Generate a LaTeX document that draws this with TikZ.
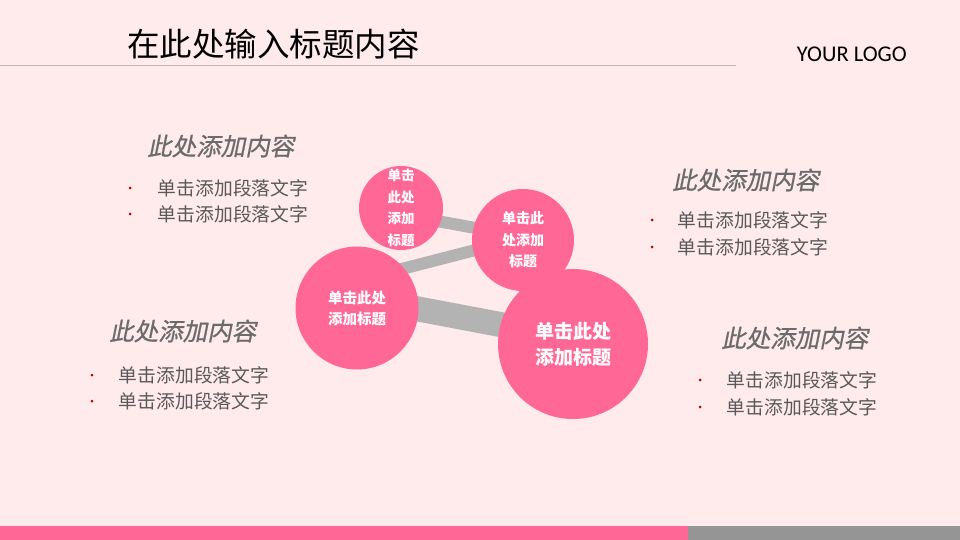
\documentclass[tikz,border=0pt]{standalone}
\usepackage{fontspec}
\setmainfont{Noto Sans CJK SC}
\newfontfamily\cjkit{Noto Sans CJK SC}[FakeSlant=0.2, FakeBold=0.6]
\newfontfamily\logofont{Carlito}
\usetikzlibrary{positioning}

\definecolor{bgpink}{HTML}{FFEAEC}
\definecolor{rosa}{HTML}{FF6797}
\definecolor{bargray}{HTML}{959595}
\definecolor{linkgray}{HTML}{B3B3B3}
\definecolor{textgray}{HTML}{595959}
\definecolor{headgray}{HTML}{6B6B6B}
\definecolor{rulegray}{HTML}{C4B4B6}
\definecolor{dotred}{HTML}{C00000}

\pgfdeclarelayer{canvas}
\pgfdeclarelayer{links}
\pgfsetlayers{canvas,links,main}

\begin{document}
\begin{tikzpicture}[
        x=1pt, y=-1pt,
        bubble/.style={circle, fill=rosa, inner sep=0pt, text=white, align=center, font=\bfseries},
        link/.style={draw=linkgray, line cap=butt, shorten <=-10pt, shorten >=-10pt},
        heading/.style={inner sep=0pt, anchor=west, text=headgray, font=\cjkit\fontsize{24.5}{28}\selectfont},
        entry/.style={inner sep=0pt, anchor=west, text=textgray, font=\fontsize{18.8}{22}\selectfont},
        dot/.style={circle, fill=dotred, inner sep=0pt, minimum size=3pt}
    ]

    % Hintergrund
    \begin{pgfonlayer}{canvas}
        \fill[bgpink] (0,0) rectangle (960,540);
    \end{pgfonlayer}
    \useasboundingbox (0,0) rectangle (960,540);

    % Kopfzeile
    \node[inner sep=0pt, anchor=west, font=\fontsize{32.5}{35}\selectfont] (title) at (127,44) {在此处输入标题内容};
    \draw[rulegray, line width=1pt] (0,66) -- (736,66);
    \node[inner sep=0pt, anchor=east, font=\logofont\fontsize{22.5}{25}\selectfont] (logo) at (907,54) {YOUR LOGO};

    % Fusszeile
    \fill[rosa] (0,526) rectangle (688,540);
    \fill[bargray] (688,526) rectangle (960,540);

    % Kreise
    \node[bubble, minimum size=84pt, font=\bfseries\fontsize{13.5}{21.5}\selectfont] (small) at (401,208) {单击\\此处\\添加\\标题};
    \node[bubble, minimum size=102pt, font=\bfseries\fontsize{14}{21.5}\selectfont] (upper) at (523,240) {单击此\\处添加\\标题};
    \node[bubble, minimum size=123pt, font=\bfseries\fontsize{14.5}{21}\selectfont] (left) at (357,308) {单击此处\\添加标题};
    \node[bubble, minimum size=150pt, font=\bfseries\fontsize{19}{26}\selectfont] (big) at (573,344) {单击此处\\添加标题};

    % Verbindungen hinter den Kreisen
    \begin{pgfonlayer}{links}
        \draw[link, line width=12pt] (small.-19) -- (upper.166);
        \draw[link, line width=12pt] (left.40) -- (upper.192);
        \draw[link, line width=25pt] (left.-1) -- (big.165);
    \end{pgfonlayer}

    % Textbloecke oben links
    \node[heading] (headTL) at (147,146) {此处添加内容};
    \node[dot] (dotTL1) at (130,188) {};
    \node[dot] (dotTL2) at (130,214) {};
    \node[entry, right=26pt of dotTL1] (entryTL1) {单击添加段落文字};
    \node[entry, right=26pt of dotTL2] (entryTL2) {单击添加段落文字};

    % oben rechts
    \node[heading] (headTR) at (672,180) {此处添加内容};
    \node[dot] (dotTR1) at (652,220) {};
    \node[dot] (dotTR2) at (652,247) {};
    \node[entry, right=24pt of dotTR1] (entryTR1) {单击添加段落文字};
    \node[entry, right=24pt of dotTR2] (entryTR2) {单击添加段落文字};

    % unten links
    \node[heading] (headBL) at (109,331) {此处添加内容};
    \node[dot] (dotBL1) at (92,375) {};
    \node[dot] (dotBL2) at (92,401) {};
    \node[entry, right=25pt of dotBL1] (entryBL1) {单击添加段落文字};
    \node[entry, right=25pt of dotBL2] (entryBL2) {单击添加段落文字};

    % unten rechts
    \node[heading] (headBR) at (721,338) {此处添加内容};
    \node[dot] (dotBR1) at (700,380) {};
    \node[dot] (dotBR2) at (700,407) {};
    \node[entry, right=25pt of dotBR1] (entryBR1) {单击添加段落文字};
    \node[entry, right=25pt of dotBR2] (entryBR2) {单击添加段落文字};

\end{tikzpicture}
\end{document}
